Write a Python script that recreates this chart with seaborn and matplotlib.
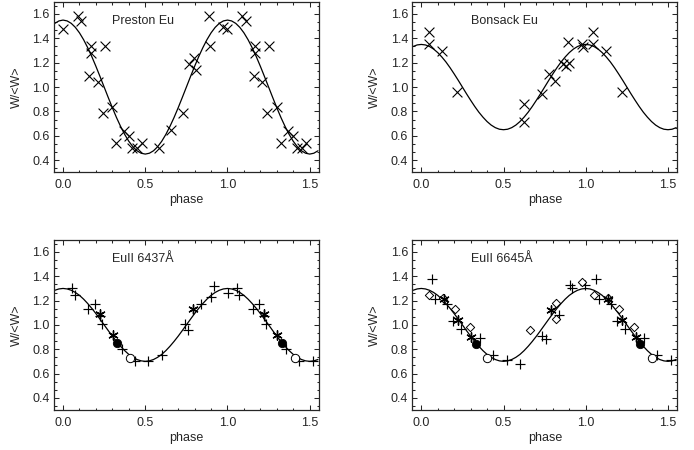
import numpy as np
import matplotlib
matplotlib.use("Agg")
import matplotlib.pyplot as plt
from matplotlib.ticker import MultipleLocator, AutoMinorLocator, FormatStrFormatter
import seaborn as sns

# ---- data ----
# fitted curves, sampled every 0.025 in phase
CURVE_PHASE = [-0.050, -0.025,
               0.000, 0.025, 0.050, 0.075, 0.100, 0.125, 0.150, 0.175, 0.200, 0.225,
               0.250, 0.275, 0.300, 0.325, 0.350, 0.375, 0.400, 0.425, 0.450, 0.475,
               0.500, 0.525, 0.550, 0.575, 0.600, 0.625, 0.650, 0.675, 0.700, 0.725,
               0.750, 0.775, 0.800, 0.825, 0.850, 0.875, 0.900, 0.925, 0.950, 0.975,
               1.000, 1.025, 1.050, 1.075, 1.100, 1.125, 1.150, 1.175, 1.200, 1.225,
               1.250, 1.275, 1.300, 1.325, 1.350, 1.375, 1.400, 1.425, 1.450, 1.475,
               1.500, 1.525, 1.550]
CURVE_PRESTON = [1.523, 1.543,
                 1.550, 1.543, 1.523, 1.490, 1.445, 1.389, 1.323, 1.250, 1.170, 1.086,
                 1.000, 0.914, 0.830, 0.750, 0.677, 0.611, 0.555, 0.510, 0.477, 0.457,
                 0.450, 0.457, 0.477, 0.510, 0.555, 0.611, 0.677, 0.750, 0.830, 0.914,
                 1.000, 1.086, 1.170, 1.250, 1.323, 1.389, 1.445, 1.490, 1.523, 1.543,
                 1.550, 1.543, 1.523, 1.490, 1.445, 1.389, 1.323, 1.250, 1.170, 1.086,
                 1.000, 0.914, 0.830, 0.750, 0.677, 0.611, 0.555, 0.510, 0.477, 0.457,
                 0.450, 0.457, 0.477]
CURVE_BONSACK = [1.333, 1.346,
                 1.350, 1.346, 1.333, 1.312, 1.283, 1.247, 1.206, 1.159, 1.108, 1.055,
                 1.000, 0.945, 0.892, 0.841, 0.794, 0.753, 0.717, 0.688, 0.667, 0.654,
                 0.650, 0.654, 0.667, 0.688, 0.717, 0.753, 0.794, 0.841, 0.892, 0.945,
                 1.000, 1.055, 1.108, 1.159, 1.206, 1.247, 1.283, 1.312, 1.333, 1.346,
                 1.350, 1.346, 1.333, 1.312, 1.283, 1.247, 1.206, 1.159, 1.108, 1.055,
                 1.000, 0.945, 0.892, 0.841, 0.794, 0.753, 0.717, 0.688, 0.667, 0.654,
                 0.650, 0.654, 0.667]
CURVE_EUII = [1.285, 1.296,
              1.300, 1.296, 1.285, 1.267, 1.243, 1.212, 1.176, 1.136, 1.093, 1.047,
              1.000, 0.953, 0.907, 0.864, 0.824, 0.788, 0.757, 0.733, 0.715, 0.704,
              0.700, 0.704, 0.715, 0.733, 0.757, 0.788, 0.824, 0.864, 0.907, 0.953,
              1.000, 1.047, 1.093, 1.136, 1.176, 1.212, 1.243, 1.267, 1.285, 1.296,
              1.300, 1.296, 1.285, 1.267, 1.243, 1.212, 1.176, 1.136, 1.093, 1.047,
              1.000, 0.953, 0.907, 0.864, 0.824, 0.788, 0.757, 0.733, 0.715, 0.704,
              0.700, 0.704, 0.715]

# Preston Eu (crosses)
PRESTON_PHASE = [0.00, 0.09, 0.11, 0.17, 0.17, 0.16, 0.21, 0.255, 0.24, 0.30, 0.325,
                 0.37, 0.40, 0.42, 0.45, 0.48, 0.585, 0.655, 0.73, 0.765, 0.795,
                 0.81, 0.885, 0.895, 0.975]
PRESTON_W = [1.48, 1.58, 1.54, 1.34, 1.28, 1.09, 1.04, 1.34, 0.79, 0.84, 0.54,
             0.64, 0.60, 0.50, 0.50, 0.54, 0.50, 0.65, 0.79, 1.19, 1.24,
             1.14, 1.58, 1.34, 1.49]

# Bonsack Eu (crosses)
BONSACK_PHASE = [0.045, 0.045, 0.125, 0.22, 0.625, 0.625, 0.735, 0.775, 0.815,
                 0.86, 0.88, 0.90, 0.89, 0.975, 0.985]
BONSACK_W = [1.45, 1.35, 1.30, 0.96, 0.86, 0.71, 0.94, 1.11, 1.05,
             1.19, 1.17, 1.20, 1.37, 1.35, 1.33]

# EuII 6437A
E37_PLUS_PHASE = [0.057, 0.071, 0.154, 0.193, 0.223, 0.235, 0.357, 0.436, 0.519,
                  0.602, 0.744, 0.761, 0.840, 0.899, 0.919, 1.004]
E37_PLUS_W = [1.30, 1.25, 1.13, 1.17, 1.07, 1.01, 0.80, 0.70, 0.70,
              0.75, 1.01, 0.96, 1.17, 1.23, 1.32, 1.26]
E37_STAR_PHASE = [0.223, 0.304, 0.791]
E37_STAR_W = [1.09, 0.92, 1.13]
E37_DOT_PHASE = [0.329]
E37_DOT_W = [0.855]
E37_RING_PHASE = [0.41]
E37_RING_W = [0.73]

# EuII 6645A
E45_PLUS_PHASE = [0.063, 0.081, 0.156, 0.193, 0.239, 0.355, 0.436, 0.519, 0.600,
                  0.736, 0.759, 0.838, 0.903, 0.915, 0.997]
E45_PLUS_W = [1.38, 1.21, 1.17, 1.03, 0.97, 0.89, 0.75, 0.71, 0.68,
              0.91, 0.88, 1.08, 1.33, 1.30, 1.33]
E45_DIAM_PHASE = [0.049, 0.134, 0.205, 0.294, 0.661, 0.822, 0.818, 0.98]
E45_DIAM_W = [1.25, 1.22, 1.13, 0.98, 0.96, 1.18, 1.05, 1.35]
E45_STAR_PHASE = [0.138, 0.223, 0.304, 0.791]
E45_STAR_W = [1.21, 1.04, 0.90, 1.12]
E45_DOT_PHASE = [0.331]
E45_DOT_W = [0.84]
E45_RING_PHASE = [0.402]
E45_RING_W = [0.725]


def wrap(phase, w):
    """Repeat the points one cycle later, as in the original plot."""
    p = np.asarray(phase, dtype=float)
    return np.r_[p, p + 1.0], np.r_[w, w]


sns.set_style("ticks")
plt.rcParams["font.family"] = ["Liberation Sans", "DejaVu Sans"]
plt.rcParams["font.size"] = 9

STAR = (6, 2, 0)
STYLES = {
    "x": dict(marker="x", s=50, color="black", linewidth=0.8),
    "+": dict(marker="+", s=45, color="black", linewidth=0.85),
    "*": dict(marker=STAR, s=45, color="black", linewidth=1.0),
    "dot": dict(marker="o", s=36, color="black", edgecolor="black", linewidth=0.6),
    "ring": dict(marker="o", s=36, color="white", edgecolor="black", linewidth=0.7),
    "D": dict(marker="D", s=18, color="white", edgecolor="black", linewidth=0.7),
}


def draw_panel(ax, curve, groups, label):
    sns.lineplot(x=CURVE_PHASE, y=curve, ax=ax, color="black", linewidth=0.9,
                 sort=False, estimator=None, zorder=2)
    for kind, ph, w in groups:
        x, y = wrap(ph, w)
        sns.scatterplot(x=x, y=y, ax=ax, zorder=3, legend=False, **STYLES[kind])
    ax.set_xlim(-0.055, 1.557)
    ax.set_ylim(0.3, 1.7)
    ax.xaxis.set_major_locator(MultipleLocator(0.5))
    ax.xaxis.set_minor_locator(AutoMinorLocator(5))
    ax.yaxis.set_major_locator(MultipleLocator(0.2))
    ax.yaxis.set_minor_locator(AutoMinorLocator(3))
    ax.xaxis.set_major_formatter(FormatStrFormatter("%.1f"))
    ax.yaxis.set_major_formatter(FormatStrFormatter("%.1f"))
    ax.tick_params(which="both", direction="in", top=True, right=True,
                   width=0.75, labelsize=9)
    ax.tick_params(which="major", length=3.5)
    ax.tick_params(which="minor", length=1.8)
    ax.tick_params(axis="x", pad=5)
    ax.tick_params(axis="y", pad=3)
    for sp in ax.spines.values():
        sp.set_linewidth(0.9)
    ax.set_xlabel("phase", labelpad=2)
    ax.set_ylabel("W/<W>", labelpad=7)
    ax.text(0.30, 1.54, label, fontsize=9, ha="left", va="center")


fig = plt.figure(figsize=(6.94, 4.5), dpi=100)
ax1 = fig.add_axes([0.0778, 0.617, 0.382, 0.379])
ax2 = fig.add_axes([0.594, 0.617, 0.382, 0.379])
ax3 = fig.add_axes([0.0778, 0.089, 0.382, 0.378])
ax4 = fig.add_axes([0.594, 0.089, 0.382, 0.378])

draw_panel(ax1, CURVE_PRESTON, [("x", PRESTON_PHASE, PRESTON_W)], "Preston Eu")
draw_panel(ax2, CURVE_BONSACK, [("x", BONSACK_PHASE, BONSACK_W)], "Bonsack Eu")
draw_panel(ax3, CURVE_EUII, [
    ("+", E37_PLUS_PHASE, E37_PLUS_W),
    ("*", E37_STAR_PHASE, E37_STAR_W),
    ("dot", E37_DOT_PHASE, E37_DOT_W),
    ("ring", E37_RING_PHASE, E37_RING_W),
], "EuII 6437Å")
draw_panel(ax4, CURVE_EUII, [
    ("+", E45_PLUS_PHASE, E45_PLUS_W),
    ("D", E45_DIAM_PHASE, E45_DIAM_W),
    ("*", E45_STAR_PHASE, E45_STAR_W),
    ("dot", E45_DOT_PHASE, E45_DOT_W),
    ("ring", E45_RING_PHASE, E45_RING_W),
], "EuII 6645Å")

fig.savefig("out.png", dpi=100)
